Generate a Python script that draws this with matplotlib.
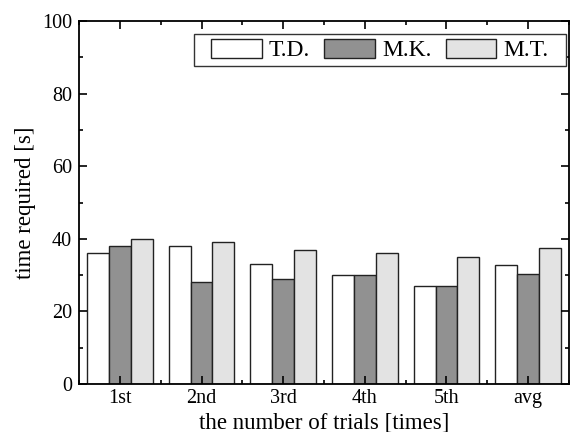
import matplotlib
matplotlib.use("Agg")
import matplotlib.pyplot as plt
import numpy as np
from matplotlib.patches import Rectangle
from matplotlib.ticker import MultipleLocator

categories = ["1st", "2nd", "3rd", "4th", "5th", "avg"]
td = [36, 38, 33, 30, 27, 32.8]
mk = [38, 28, 29, 30, 27, 30.4]
mt = [40, 39, 37, 36, 35, 37.4]

plt.rcParams["font.family"] = ["Liberation Serif", "DejaVu Serif"]

fig = plt.figure(figsize=(5.78, 4.32), dpi=100)
ax = fig.add_axes([79 / 578, 1 - 384 / 432, 490 / 578, 363 / 432])

x = np.arange(1, len(categories) + 1)
w = 0.267
kw = dict(edgecolor="#222222", linewidth=1.0)
ax.bar(x - w, td, w, color="white", label="T.D.", **kw)
ax.bar(x, mk, w, color="#919191", label="M.K.", **kw)
ax.bar(x + w, mt, w, color="#e3e3e3", label="M.T.", **kw)

ax.set_xlim(0.5, 6.5)
ax.set_ylim(0, 100)
ax.set_xticks(x)
ax.set_xticklabels(categories)
ax.set_xticks(np.arange(0.5, 7, 1), minor=True)
ax.yaxis.set_major_locator(MultipleLocator(20))
ax.yaxis.set_minor_locator(MultipleLocator(10))
ax.tick_params(which="both", direction="in", top=True, right=True, labelsize=14.5, width=1.2)
ax.tick_params(which="major", length=6)
ax.tick_params(which="minor", length=3)
ax.tick_params(axis="y", pad=5)
for s in ax.spines.values():
    s.set_linewidth(1.3)

ax.set_xlabel("the number of trials [times]", fontsize=16.5, labelpad=3)
ax.set_ylabel("time required [s]", fontsize=16.5, labelpad=4)

# legend box drawn by hand so the padding matches the original
ax.add_patch(Rectangle((0.2347, 0.876), 0.7592, 0.088, transform=ax.transAxes,
                       facecolor="white", edgecolor="#333333", linewidth=1.0, zorder=4))
leg = ax.legend(loc="center", bbox_to_anchor=(0.614, 0.920), ncol=3, fontsize=17,
                handlelength=2.15, handleheight=0.85, handletextpad=0.3,
                columnspacing=0.6, frameon=False, borderpad=0.0)
leg.set_zorder(5)

fig.savefig("out.png", dpi=100)
